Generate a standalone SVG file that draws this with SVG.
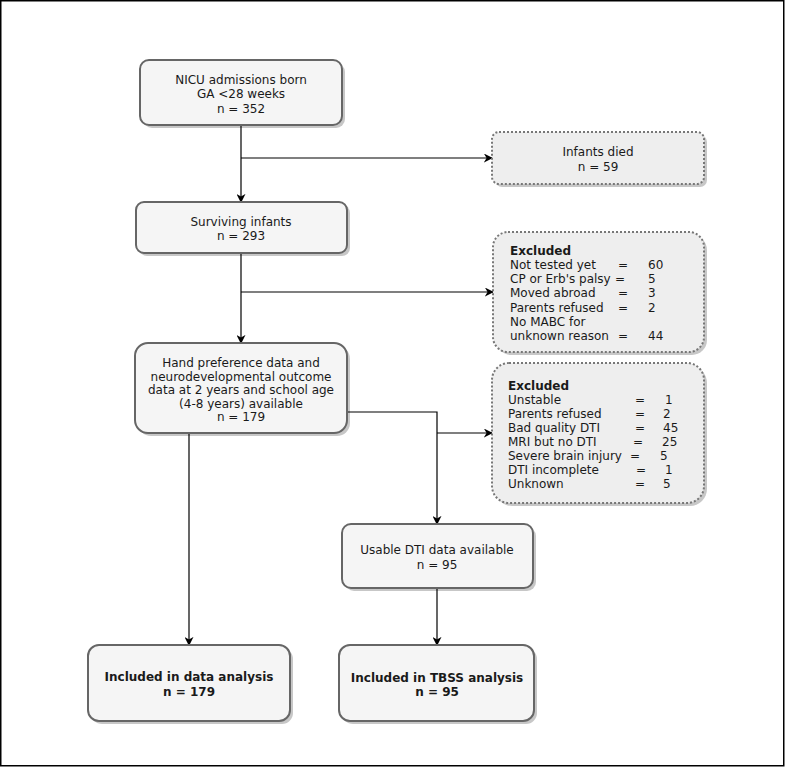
<svg xmlns="http://www.w3.org/2000/svg" width="785" height="767" viewBox="0 0 785 767">
<style>
.box{fill:#f5f5f5;stroke:#666;stroke-width:2}
.dot{fill:#eeeeee;stroke:#777;stroke-width:2;stroke-dasharray:2 2}
.sh{fill:#000;opacity:0.22}
text{font-family:"DejaVu Sans",Verdana,sans-serif;font-size:12px;fill:#1a1a1a}
.c{text-anchor:middle}
.b{font-weight:bold}
.ln{fill:none;stroke:#000;stroke-width:1.2}
</style>
<defs>
<marker id="ar" viewBox="0 0 10 10" refX="9" refY="5" markerWidth="9" markerHeight="9" markerUnits="userSpaceOnUse" orient="auto">
<path d="M0,0 L10,5 L0,10 L3,5 Z" fill="#000"/>
</marker>
</defs>
<rect x="0.75" y="0.75" width="783" height="765" fill="#fff" stroke="#000" stroke-width="1.5"/>

<g id="connectors">
<path class="ln" d="M241,125 V202" marker-end="url(#ar)"/>
<path class="ln" d="M241,158 H492" marker-end="url(#ar)"/>
<path class="ln" d="M241,253 V343" marker-end="url(#ar)"/>
<path class="ln" d="M241,292 H493" marker-end="url(#ar)"/>
<path class="ln" d="M189,433 V645" marker-end="url(#ar)"/>
<path class="ln" d="M347,412 H437 V524" marker-end="url(#ar)"/>
<path class="ln" d="M437,433 H492" marker-end="url(#ar)"/>
<path class="ln" d="M437,588 V645" marker-end="url(#ar)"/>
</g>

<g id="n1">
<rect class="sh" x="143" y="63" width="202" height="65" rx="9"/>
<rect class="box" x="140" y="60" width="202" height="65" rx="9"/>
<text class="c" x="241" y="83.5">NICU admissions born</text>
<text class="c" x="241" y="98">GA &lt;28 weeks</text>
<text class="c" x="241" y="113">n = 352</text>
</g>

<g id="n2">
<rect class="sh" x="495" y="135" width="212" height="52" rx="7"/>
<rect class="dot" x="492" y="132" width="212" height="52" rx="7"/>
<text class="c" x="598" y="156">Infants died</text>
<text class="c" x="598" y="171">n = 59</text>
</g>

<g id="n3">
<rect class="sh" x="139" y="205" width="211" height="51" rx="8"/>
<rect class="box" x="136" y="202" width="211" height="51" rx="8"/>
<text class="c" x="241" y="226">Surviving infants</text>
<text class="c" x="241" y="240">n = 293</text>
</g>

<g id="n4">
<rect class="sh" x="496" y="235" width="211" height="120" rx="15"/>
<rect class="dot" x="493" y="232" width="211" height="120" rx="15"/>
<text x="510" y="254.5" class="b">Excluded</text>
<text x="510" y="268.8">Not tested yet</text><text x="618" y="268.8">=</text><text x="648" y="268.8">60</text>
<text x="510" y="283.1">CP or Erb's palsy</text><text x="615" y="283.1">=</text><text x="648" y="283.1">5</text>
<text x="510" y="297.4">Moved abroad</text><text x="618" y="297.4">=</text><text x="648" y="297.4">3</text>
<text x="510" y="311.7">Parents refused</text><text x="618" y="311.7">=</text><text x="648" y="311.7">2</text>
<text x="510" y="326">No MABC for</text>
<text x="510" y="340.3">unknown reason</text><text x="618" y="340.3">=</text><text x="648" y="340.3">44</text>
</g>

<g id="n5">
<rect class="sh" x="138" y="346" width="212" height="90" rx="13"/>
<rect class="box" x="135" y="343" width="212" height="90" rx="13"/>
<text class="c" x="241" y="367">Hand preference data and</text>
<text class="c" x="241" y="380.5">neurodevelopmental outcome</text>
<text class="c" x="241" y="394">data at 2 years and school age</text>
<text class="c" x="241" y="407.5">(4-8 years) available</text>
<text class="c" x="241" y="421">n = 179</text>
</g>

<g id="n6">
<rect class="sh" x="495" y="366" width="212" height="140" rx="17"/>
<rect class="dot" x="492" y="363" width="212" height="140" rx="17"/>
<text x="508" y="389.5" class="b">Excluded</text>
<text x="508" y="404">Unstable</text><text x="635" y="404">=</text><text x="665" y="404">1</text>
<text x="508" y="418">Parents refused</text><text x="635" y="418">=</text><text x="663" y="418">2</text>
<text x="508" y="432">Bad quality DTI</text><text x="635" y="432">=</text><text x="663" y="432">45</text>
<text x="508" y="446">MRI but no DTI</text><text x="633" y="446">=</text><text x="662" y="446">25</text>
<text x="508" y="460">Severe brain injury</text><text x="630" y="460">=</text><text x="660" y="460">5</text>
<text x="508" y="474">DTI incomplete</text><text x="636" y="474">=</text><text x="665" y="474">1</text>
<text x="508" y="488">Unknown</text><text x="635" y="488">=</text><text x="663" y="488">5</text>
</g>

<g id="n7">
<rect class="sh" x="345" y="527" width="191" height="64" rx="9"/>
<rect class="box" x="342" y="524" width="191" height="64" rx="9"/>
<text class="c" x="437" y="554">Usable DTI data available</text>
<text class="c" x="437" y="569">n = 95</text>
</g>

<g id="n8">
<rect class="sh" x="91" y="648" width="202" height="76" rx="11"/>
<rect class="box" x="88" y="645" width="202" height="76" rx="11"/>
<text class="c b" x="189" y="681">Included in data analysis</text>
<text class="c b" x="189" y="696">n = 179</text>
</g>

<g id="n9">
<rect class="sh" x="342" y="648" width="195" height="76" rx="11"/>
<rect class="box" x="339" y="645" width="195" height="76" rx="11"/>
<text class="c b" x="437" y="682">Included in TBSS analysis</text>
<text class="c b" x="437" y="696">n = 95</text>
</g>
</svg>
